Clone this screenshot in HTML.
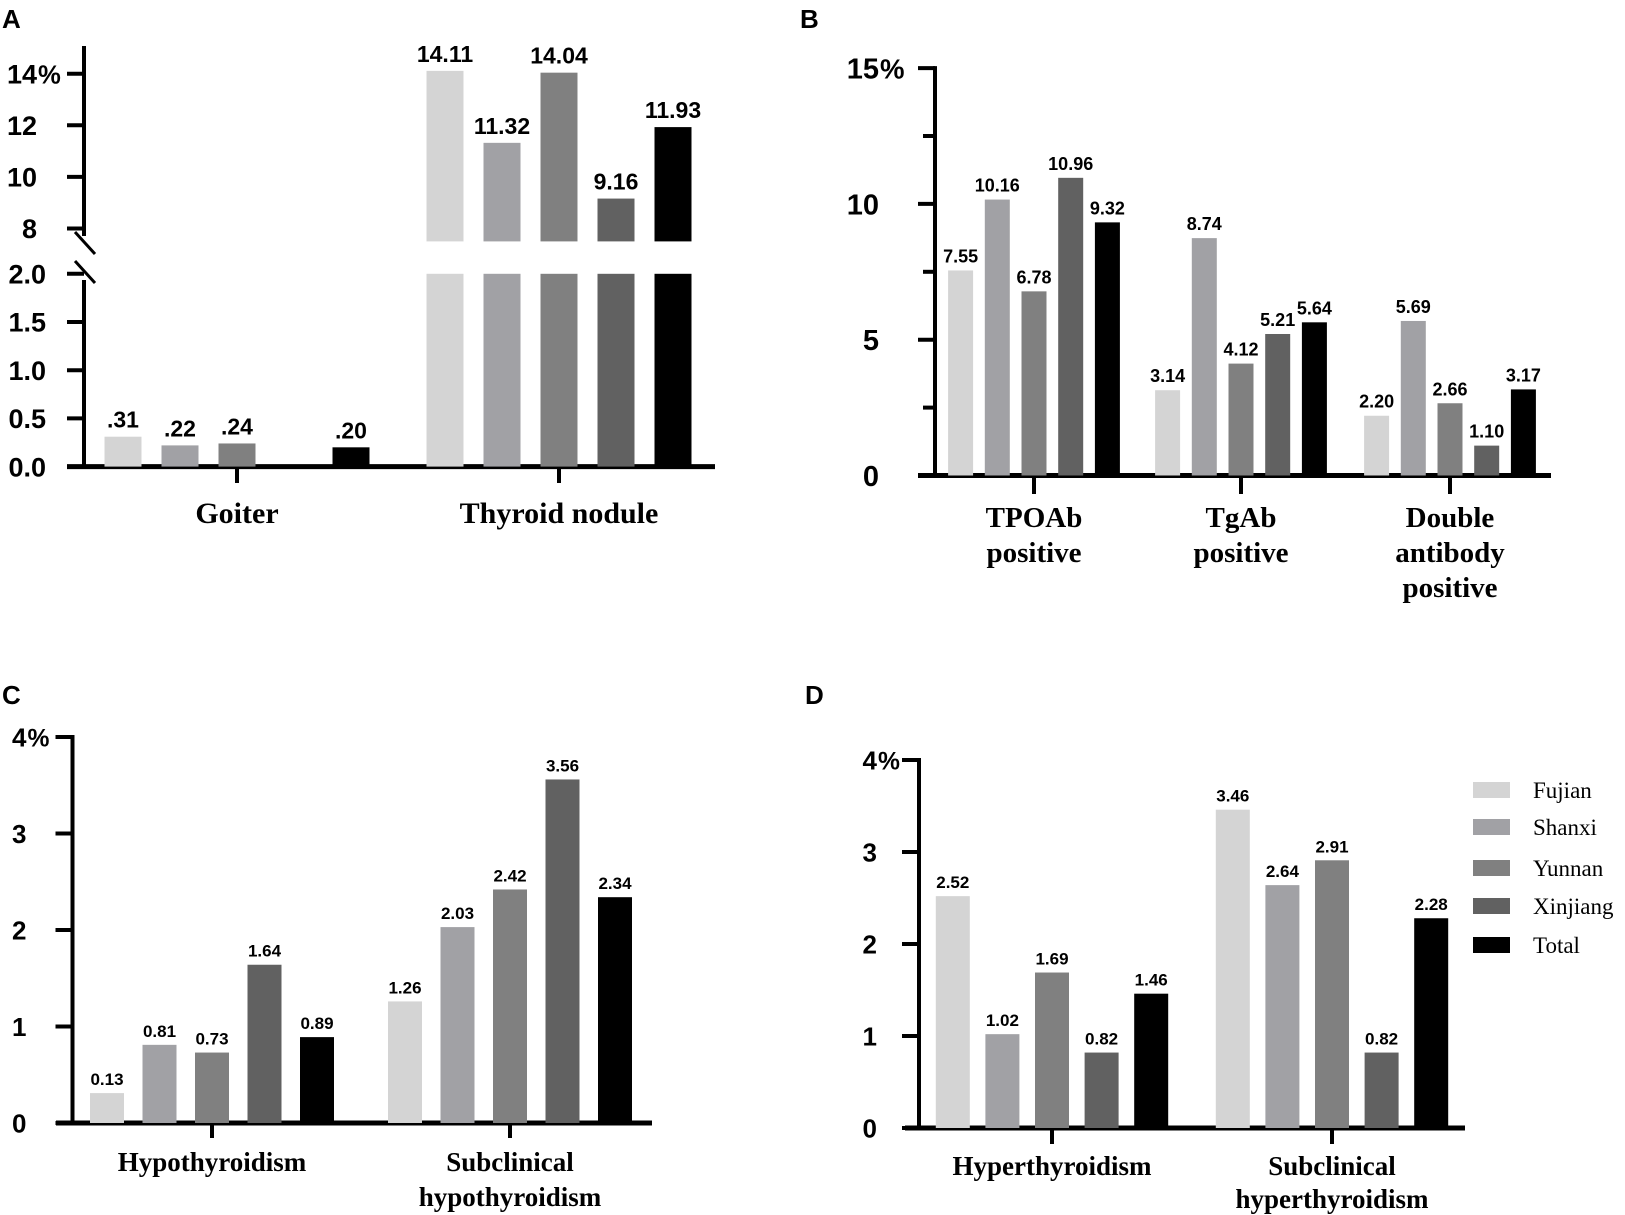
<!DOCTYPE html>
<html><head><meta charset="utf-8"><style>
html,body{margin:0;padding:0;background:#fff;}
svg{display:block;}
.tick{font-family:"Liberation Sans",sans-serif;font-weight:bold;}
.cat{font-family:"Liberation Serif",serif;font-weight:bold;}
.val{font-family:"Liberation Sans",sans-serif;font-weight:bold;}
.leg{font-family:"Liberation Serif",serif;}
.pl{font-family:"Liberation Sans",sans-serif;font-weight:bold;font-size:26px;}
</style></head><body>
<svg id="fig" width="1625" height="1215" viewBox="0 0 1625 1215" xmlns="http://www.w3.org/2000/svg">
<text class="pl" x="2" y="28">A</text>
<text class="pl" x="800" y="28">B</text>
<text class="pl" x="2" y="704">C</text>
<text class="pl" x="805" y="704">D</text>
</svg>
<script>
const series = ["Fujian","Shanxi","Yunnan","Xinjiang","Total"];
const colors = ["#d4d4d4","#a1a1a5","#808080","#616161","#000000"];
// Panel A
const catsA = [["Goiter"],["Thyroid nodule"]];
const valsA = [[0.31,0.22,0.24,null,0.20],[14.11,11.32,14.04,9.16,11.93]];
const lblsA = [[".31",".22",".24","",".20"],["14.11","11.32","14.04","9.16","11.93"]];
const ticksAlow = [0,0.5,1.0,1.5,2.0];
const ticksAhigh = [8,10,12,14];
// Panel B
const catsB = [["TPOAb","positive"],["TgAb","positive"],["Double","antibody","positive"]];
const valsB = [[7.55,10.16,6.78,10.96,9.32],[3.14,8.74,4.12,5.21,5.64],[2.20,5.69,2.66,1.10,3.17]];
const lblsB = [["7.55","10.16","6.78","10.96","9.32"],["3.14","8.74","4.12","5.21","5.64"],["2.20","5.69","2.66","1.10","3.17"]];
const ticksB = [0,5,10,15];
const minorB = [2.5,7.5,12.5];
// Panel C
const catsC = [["Hypothyroidism"],["Subclinical","hypothyroidism"]];
const valsC = [[0.31,0.81,0.73,1.64,0.89],[1.26,2.03,2.42,3.56,2.34]];
const lblsC = [["0.13","0.81","0.73","1.64","0.89"],["1.26","2.03","2.42","3.56","2.34"]];
const ticksC = [0,1,2,3,4];
// Panel D
const catsD = [["Hyperthyroidism"],["Subclinical","hyperthyroidism"]];
const valsD = [[2.52,1.02,1.69,0.82,1.46],[3.46,2.64,2.91,0.82,2.28]];
const lblsD = [["2.52","1.02","1.69","0.82","1.46"],["3.46","2.64","2.91","0.82","2.28"]];
const ticksD = [0,1,2,3,4];

const svg = document.getElementById('fig');
const NS = "http://www.w3.org/2000/svg";
function mk(tag, attrs, parent){
  const e = document.createElementNS(NS, tag);
  for (const k in attrs) e.setAttribute(k, attrs[k]);
  (parent||svg).appendChild(e);
  return e;
}
function line(x1,y1,x2,y2,w,parent,name){
  const l = mk('line',{x1:x1,y1:y1,x2:x2,y2:y2,stroke:'#000','stroke-width':w},parent);
  
  
  return l;
}
function txt(x,y,s,cls,size,anchor,parent,name){
  const t = mk('text',{x:x,y:y,'class':cls,'font-size':size,'text-anchor':anchor},parent);
  t.textContent = s;
  
  
  return t;
}
function yTick(g, ax, y, label, offs, size, pct, name){
  line(ax-17, y, ax, y, 4, g, name+'-tick');
  txt(ax-offs, y+size*0.36, label, 'tick', size, 'end', g, name+'-label');
  if (pct) txt(ax-offs+1, y+size*0.36, '%', 'tick', size*0.95, 'start', g, name+'-percent');
}

function panel(cfg){
  const g = mk('g',{});
  
  
  const y = v => cfg.y0 - (v - 0) * cfg.unit;
  line(cfg.ax, y(cfg.ticks[cfg.ticks.length-1])-2, cfg.ax, cfg.y0+2, 4, g, 'y-axis');
  line(cfg.xl, cfg.y0, cfg.xr, cfg.y0, 5, g, 'x-axis');
  cfg.ticks.forEach((t,i)=>yTick(g, cfg.ax, y(t), String(t), cfg.offs, cfg.tsize, i===cfg.ticks.length-1, 'y-tick-'+t));
  (cfg.minor||[]).forEach(t=>line(cfg.ax-12, y(t), cfg.ax, y(t), 4, g, 'y-minor-tick'));
  cfg.cats.forEach((cat,ci)=>{
    const cx = cfg.catX[ci];
    line(cx, cfg.y0, cx, cfg.tickB, 4, g, 'x-tick');
    cat.forEach((ln,li)=>txt(cx, cfg.labY + li*cfg.labDy, ln, 'cat', cfg.csize, 'middle', g, 'category-label'));
    cfg.vals[ci].forEach((v,si)=>{
      if (v===null) return;
      const x = cx + (si-2)*cfg.step - cfg.bw/2;
      const r = mk('rect',{x:x, y:y(v), width:cfg.bw, height:cfg.y0-y(v), fill:colors[si]}, g);
      
      
      txt(x+cfg.bw/2, y(v)-8, cfg.lbls[ci][si], 'val', cfg.vsize, 'middle', g, 'value-label');
    });
  });
  return g;
}

panel({name:'panel-b-chart', ax:935, y0:475.5, unit:27.16, xl:918, xr:1551, ticks:ticksB, minor:minorB,
  offs:56, tsize:29, cats:catsB, catX:[1034,1241,1450], tickB:494, labY:527, labDy:35, csize:29,
  vals:valsB, lbls:lblsB, step:36.7, bw:25, vsize:18});
panel({name:'panel-c-chart', ax:72.5, y0:1123, unit:96.5, xl:56, xr:652, ticks:ticksC,
  offs:46, tsize:26, cats:catsC, catX:[212,510], tickB:1138, labY:1171, labDy:35, csize:27,
  vals:valsC, lbls:lblsC, step:52.5, bw:34, vsize:17});
panel({name:'panel-d-chart', ax:919, y0:1128, unit:92, xl:905, xr:1465, ticks:ticksD,
  offs:42, tsize:26, cats:catsD, catX:[1052,1332], tickB:1144, labY:1175, labDy:33, csize:27,
  vals:valsD, lbls:lblsD, step:49.6, bw:34, vsize:17});

(function(){
  const g = mk('g',{});
  
  
  const ax = 84, y0 = 466.6;
  const yl = v => y0 - v*96.4;
  const yh = v => 228.5 - (v-8)*25.8;
  const yv = v => v > 2 ? yh(v) : yl(v);
  line(ax, 46, ax, 236, 4, g, 'y-axis-upper');
  line(ax, 280, ax, y0+2, 4, g, 'y-axis-lower');
  line(75, 232, 95, 254, 3, g, 'axis-break-mark');
  line(75, 261, 95, 283, 3, g, 'axis-break-mark');
  line(67, y0, 715, y0, 5, g, 'x-axis');
  ticksAlow.forEach(t=>yTick(g, ax, yl(t), t.toFixed(1), 38, 27, false, 'y-tick-'+t));
  ticksAhigh.forEach((t,i)=>yTick(g, ax, yh(t), String(t), 47, 27, i===ticksAhigh.length-1, 'y-tick-'+t));
  const catX = [237,559];
  catsA.forEach((cat,ci)=>{
    const cx = catX[ci];
    line(cx, y0, cx, 483, 4, g, 'x-tick');
    txt(cx, 523, cat[0], 'cat', 30, 'middle', g, 'category-label');
    valsA[ci].forEach((v,si)=>{
      if (v===null) return;
      const bw = 37, x = cx + (si-2)*57 - bw/2;
      if (v > 2) {
        const r1 = mk('rect',{x:x, y:yl(2), width:bw, height:y0-yl(2), fill:colors[si]}, g);
        
        
        const r2 = mk('rect',{x:x, y:yh(v), width:bw, height:yh(7.5)-yh(v), fill:colors[si]}, g);
        
        
      } else {
        const r = mk('rect',{x:x, y:yl(v), width:bw, height:y0-yl(v), fill:colors[si]}, g);
        
        
      }
      txt(x+bw/2, yv(v)-9, lblsA[ci][si], 'val', 23, 'middle', g, 'value-label');
    });
  });
})();

(function(){
  const g = mk('g',{});
  
  
  const ys = [790,827,868,906,945];
  series.forEach((s,i)=>{
    const r = mk('rect',{x:1473, y:ys[i]-8, width:37, height:16, fill:colors[i]}, g);
    
    
    txt(1533, ys[i]+8, s, 'leg', 23, 'start', g, 'legend-entry-'+s.toLowerCase());
  });
})();
</script>
</body></html>
